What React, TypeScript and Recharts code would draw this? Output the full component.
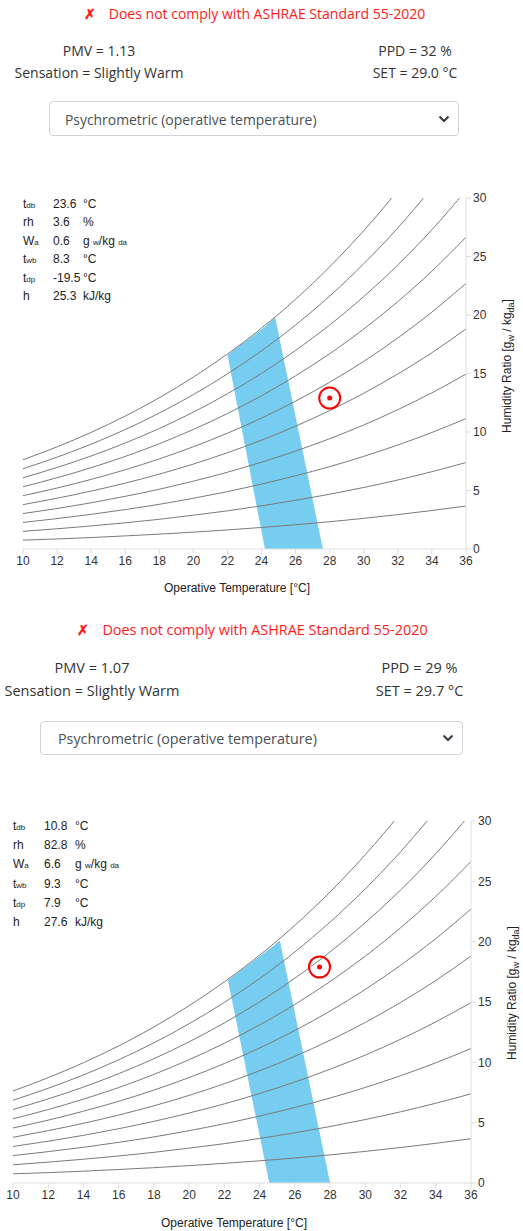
import React from 'react';
import { ComposedChart, Line, Area, Scatter, XAxis, YAxis } from 'recharts';

// dry bulb temps used for the RH curves
const temps = [10, 12, 14, 16, 18, 20, 22, 24, 26, 28, 30, 32, 34, 36];

// humidity ratio (g/kg) of each relative humidity curve
const rh10 = [0.76, 0.86, 0.98, 1.12, 1.27, 1.44, 1.63, 1.84, 2.07, 2.33, 2.62, 2.94, 3.29, 3.67];
const rh20 = [1.51, 1.73, 1.97, 2.24, 2.54, 2.89, 3.26, 3.69, 4.16, 4.68, 5.26, 5.9, 6.61, 7.39];
const rh30 = [2.27, 2.6, 2.96, 3.37, 3.82, 4.34, 4.91, 5.55, 6.26, 7.04, 7.92, 8.89, 9.96, 11.15];
const rh40 = [3.03, 3.46, 3.95, 4.5, 5.11, 5.8, 6.56, 7.42, 8.37, 9.43, 10.6, 11.91, 13.35, 14.95];
const rh50 = [3.79, 4.34, 4.95, 5.63, 6.4, 7.26, 8.23, 9.3, 10.5, 11.83, 13.31, 14.96, 16.78, 18.81];
const rh60 = [4.56, 5.21, 5.95, 6.77, 7.7, 8.74, 9.9, 11.19, 12.64, 14.25, 16.04, 18.04, 20.25, 22.7];
const rh70 = [5.32, 6.09, 6.95, 7.91, 9.0, 10.22, 11.58, 13.1, 14.8, 16.69, 18.8, 21.15, 23.75, 26.65];
const rh80 = [6.09, 6.97, 7.95, 9.06, 10.3, 11.7, 13.27, 15.01, 16.97, 19.15, 21.58, 24.28, 27.29, 30.64];
const rh90 = [6.86, 7.85, 8.96, 10.21, 11.62, 13.2, 14.97, 16.94, 19.15, 21.62, 24.38, 27.45, 30.88, 34.69];
const rh100 = [7.63, 8.73, 9.97, 11.36, 12.93, 14.7, 16.67, 18.88, 21.35, 24.12, 27.21, 30.65, 34.49, 38.78];
const rhCurves = [rh10, rh20, rh30, rh40, rh50, rh60, rh70, rh80, rh90, rh100];

const xTicks = [10, 12, 14, 16, 18, 20, 22, 24, 26, 28, 30, 32, 34, 36];
const yTicks = [0, 5, 10, 15, 20, 25, 30];

// comfort zone outline (operative temp, low / high humidity ratio)
const zoneT1 = [22.0, 24.2, 24.8, 27.6];
const zoneLow1 = [16.6, 0, 0, 0];
const zoneHigh1 = [16.6, 19.0, 19.8, 0];
const zoneT2 = [22.2, 24.55, 25.15, 28.0];
const zoneLow2 = [16.8, 0, 0, 0];
const zoneHigh2 = [16.8, 19.4, 20.1, 0];

// current condition
const point1 = { t: 28.0, w: 12.9 };
const point2 = { t: 27.4, w: 17.9 };

// summary texts
const pmv = ['1.13', '1.07'];
const ppd = ['32', '29'];
const setTemp = ['29.0', '29.7'];
const sensation = ['Slightly Warm', 'Slightly Warm'];

// info table
const infoLabels = ['t', 'rh', 'W', 't', 't', 'h'];
const infoSubs = ['db', '', 'a', 'wb', 'dp', ''];
const infoValues1 = ['23.6', '3.6', '0.6', '8.3', '-19.5', '25.3'];
const infoValues2 = ['10.8', '82.8', '6.6', '9.3', '7.9', '27.6'];
const infoUnits = ['°C', '%', 'gw', '°C', '°C', 'kJ/kg'];

const UI_FONT = '"Segoe UI", "Open Sans", "Noto Sans", sans-serif';
const CHART_FONT = 'Arial, "Liberation Sans", sans-serif';

function Centered({ x, y, style, children }: any) {
  return (
    <div style={{ position: 'absolute', left: x, top: y, transform: 'translate(-50%, -50%)', whiteSpace: 'nowrap', ...style }}>
      {children}
    </div>
  );
}

function Marker(props: any) {
  const { cx, cy } = props;
  return (
    <g>
      <circle cx={cx} cy={cy} r={10.5} fill="none" stroke="#ff0000" strokeWidth={2} />
      <circle cx={cx} cy={cy} r={2.5} fill="#ff0000" />
    </g>
  );
}

function Unit({ u }: { u: string }) {
  if (u === 'gw') {
    return (
      <span>
        g <span style={{ fontSize: 8 }}>w</span>/kg <span style={{ fontSize: 8 }}>da</span>
      </span>
    );
  }
  return <span>{u}</span>;
}

function Panel(p: any) {
  const curveData = rhCurves.map((c) => temps.map((t, i) => ({ t, w: c[i] })));
  const zone = p.zoneT.map((t: number, i: number) => ({ t, range: [p.zoneLow[i], p.zoneHigh[i]] }));
  const fs = p.fs;
  return (
    <div>
      <Centered x={p.titleX} y={p.top + p.titleY} style={{ color: '#ff1a1a', fontSize: p.titleFs, fontFamily: UI_FONT }}>
        <span style={{ fontWeight: 'bold', marginRight: 13 }}>✗</span>Does not comply with ASHRAE Standard 55-2020
      </Centered>
      <Centered x={p.leftX} y={p.top + p.row1} style={{ color: '#333', fontSize: fs, fontFamily: UI_FONT }}>
        PMV = {p.pmv}
      </Centered>
      <Centered x={p.leftX} y={p.top + p.row2} style={{ color: '#333', fontSize: fs, fontFamily: UI_FONT }}>
        Sensation = {p.sensation}
      </Centered>
      <Centered x={p.rightX} y={p.top + p.row1} style={{ color: '#333', fontSize: fs, fontFamily: UI_FONT }}>
        PPD = {p.ppd} %
      </Centered>
      <Centered x={p.rightX} y={p.top + p.row2} style={{ color: '#333', fontSize: fs, fontFamily: UI_FONT }}>
        SET = {p.set} °C
      </Centered>
      <div
        style={{
          position: 'absolute', left: p.sel.x, top: p.top + p.sel.y, width: p.sel.w, height: p.sel.h,
          border: '1px solid #ced4da', borderRadius: 4, boxSizing: 'border-box', background: '#fff',
        }}
      >
        <div style={{ position: 'absolute', left: p.sel.pad, top: '50%', transform: 'translateY(-50%)', color: '#495057', fontSize: p.sel.fs, fontFamily: UI_FONT, whiteSpace: 'nowrap' }}>
          Psychrometric (operative temperature)
        </div>
        <svg width={12} height={8} style={{ position: 'absolute', right: 8, top: '50%', marginTop: -4 }}>
          <polyline points="1.5,1.5 6,6 10.5,1.5" fill="none" stroke="#343a40" strokeWidth={2} />
        </svg>
      </div>

      {infoLabels.map((l, i) => (
        <div key={i} style={{ position: 'absolute', top: p.top + p.info.y0 + i * p.info.dy - 7, left: 0, fontFamily: CHART_FONT, fontSize: 12, color: '#222', lineHeight: '14px' }}>
          <span style={{ position: 'absolute', left: p.info.x0 }}>
            {l}
            <span style={{ fontSize: 8 }}>{infoSubs[i]}</span>
          </span>
          <span style={{ position: 'absolute', left: p.info.x1 }}>{p.values[i]}</span>
          <span style={{ position: 'absolute', left: p.info.x2, whiteSpace: 'nowrap' }}>
            <Unit u={infoUnits[i]} />
          </span>
        </div>
      ))}

      <div style={{ position: 'absolute', left: 0, top: p.top + p.chart.top }}>
        <ComposedChart width={523} height={p.chart.h} margin={{ top: p.chart.mt, right: 0, bottom: 0, left: p.chart.ml }}>
          <XAxis
            dataKey="t"
            type="number"
            domain={[10, 36]}
            ticks={xTicks}
            allowDataOverflow
            height={p.chart.xh}
            stroke="#ddd"
            tickLine={{ stroke: '#ddd' }}
            tickSize={5}
            tick={{ fill: '#333', fontSize: 12, fontFamily: CHART_FONT }}
          />
          <YAxis
            orientation="right"
            type="number"
            domain={[0, 30]}
            ticks={yTicks}
            allowDataOverflow
            width={p.chart.yw}
            stroke="#ddd"
            tickLine={{ stroke: '#ddd' }}
            tickSize={5}
            tick={{ fill: '#333', fontSize: 12, fontFamily: CHART_FONT }}
          />
          {curveData.map((d, i) => (
            <Line key={i} data={d} dataKey="w" type="monotone" stroke="#7a7a7a" strokeWidth={1} dot={false} isAnimationActive={false} />
          ))}
          <Area data={zone} dataKey="range" type="linear" stroke="none" fill="#76cdef" fillOpacity={1} isAnimationActive={false} />
          <Scatter data={[p.point]} dataKey="w" shape={<Marker />} isAnimationActive={false} />
        </ComposedChart>
      </div>

      <Centered x={p.xTitle.x} y={p.top + p.xTitle.y} style={{ fontFamily: CHART_FONT, fontSize: 12, color: '#222' }}>
        Operative Temperature [°C]
      </Centered>
      <Centered x={p.yTitle.x} y={p.top + p.yTitle.y} style={{ fontFamily: CHART_FONT, fontSize: 12, color: '#222', transform: 'translate(-50%, -50%) rotate(-90deg)' }}>
        Humidity Ratio [g<sub style={{ fontSize: 9 }}>w</sub> / kg<sub style={{ fontSize: 9 }}>da</sub>]
      </Centered>
    </div>
  );
}

export default function App() {
  return (
    <div style={{ position: 'absolute', left: 0, top: 0, width: 523, height: 1231, background: '#fff', overflow: 'hidden' }}>
      <Panel
        top={0}
        fs={14}
        titleFs={14}
        titleX={254.5}
        titleY={13}
        leftX={99}
        rightX={415}
        row1={50}
        row2={72}
        pmv={pmv[0]}
        ppd={ppd[0]}
        set={setTemp[0]}
        sensation={sensation[0]}
        sel={{ x: 49, y: 101, w: 410, h: 35, pad: 15, fs: 13.9 }}
        info={{ x0: 23, x1: 53, x2: 83, y0: 204, dy: 18.4 }}
        values={infoValues1}
        chart={{ top: 180, h: 420, mt: 18, ml: 23, xh: 51, yw: 57 }}
        zoneT={zoneT1}
        zoneLow={zoneLow1}
        zoneHigh={zoneHigh1}
        point={point1}
        xTitle={{ x: 237, y: 588 }}
        yTitle={{ x: 508, y: 366 }}
      />
      <Panel
        top={610}
        fs={14.5}
        titleFs={14.4}
        titleX={252.5}
        titleY={19}
        leftX={92}
        rightX={419.5}
        row1={57}
        row2={80}
        pmv={pmv[1]}
        ppd={ppd[1]}
        set={setTemp[1]}
        sensation={sensation[1]}
        sel={{ x: 40, y: 111, w: 423, h: 34, pad: 17, fs: 14.3 }}
        info={{ x0: 13, x1: 44, x2: 75, y0: 216, dy: 19.2 }}
        values={infoValues2}
        chart={{ top: 170, h: 450, mt: 41, ml: 13, xh: 47, yw: 52 }}
        zoneT={zoneT2}
        zoneLow={zoneLow2}
        zoneHigh={zoneHigh2}
        point={point2}
        xTitle={{ x: 234, y: 613 }}
        yTitle={{ x: 513, y: 383 }}
      />
    </div>
  );
}
